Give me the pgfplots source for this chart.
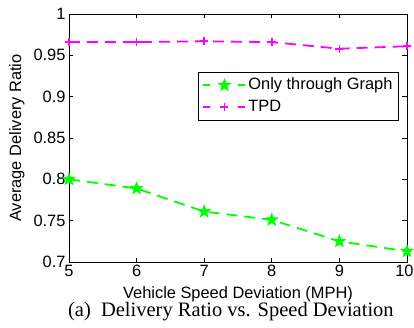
\documentclass[border=0pt]{standalone}
\usepackage{fontspec}
\setmainfont{Liberation Sans}
\newfontfamily\capfont{Liberation Serif}
\usepackage{pgfplots}
\pgfplotsset{compat=1.18}
\definecolor{mgreen}{RGB}{0,255,0}
\definecolor{mmag}{RGB}{255,0,255}
\newcommand{\lf}{\fontsize{16.4bp}{19bp}\selectfont}
\pgfdeclareplotmark{fstar}{%
  \pgfpathmoveto{\pgfpointpolar{90}{\pgfplotmarksize}}%
  \pgfpathlineto{\pgfpointpolar{126}{0.42\pgfplotmarksize}}%
  \pgfpathlineto{\pgfpointpolar{162}{\pgfplotmarksize}}%
  \pgfpathlineto{\pgfpointpolar{198}{0.42\pgfplotmarksize}}%
  \pgfpathlineto{\pgfpointpolar{234}{\pgfplotmarksize}}%
  \pgfpathlineto{\pgfpointpolar{270}{0.42\pgfplotmarksize}}%
  \pgfpathlineto{\pgfpointpolar{306}{\pgfplotmarksize}}%
  \pgfpathlineto{\pgfpointpolar{342}{0.42\pgfplotmarksize}}%
  \pgfpathlineto{\pgfpointpolar{18}{\pgfplotmarksize}}%
  \pgfpathlineto{\pgfpointpolar{54}{0.42\pgfplotmarksize}}%
  \pgfpathclose
  \pgfusepathqfillstroke}
\begin{document}
\begin{tikzpicture}
\begin{axis}[
  scale only axis, width=338bp, height=248bp,
  xmin=5, xmax=10, ymin=0.7, ymax=1,
  xtick={5,6,7,8,9,10},
  xticklabels={5,6,7,8,9,{10\hspace*{5bp}}},
  ytick={0.7,0.75,0.8,0.85,0.9,0.95,1},
  tick align=inside, tick pos=both,
  major tick length=4.5bp,
  axis line style={line width=0.9bp},
  every tick/.style={black, line width=0.7bp},
  /pgf/number format/assume math mode=true,
  yticklabel style={/pgf/number format/fixed, /pgf/number format/precision=2},
  tick label style={font=\lf},
  xlabel={Vehicle Speed Deviation (MPH)},
  ylabel={Average Delivery Ratio},
  every axis x label/.style={at={(axis description cs:0.5,-0.129)}, anchor=center, font=\lf},
  every axis y label/.style={at={(axis description cs:-0.154,0.5)}, anchor=center, rotate=90, font=\lf},
  legend style={at={(axis description cs:0.976,0.766)}, anchor=north east, font=\lf, draw=black, line width=0.9bp,
    inner xsep=4bp, inner ysep=3bp, row sep=2.5bp,
    nodes={inner sep=2bp, text height=12bp, text depth=3.5bp}},
  legend cell align=left,
  legend image code/.code={
    \draw[#1, dash pattern=on 7bp off 28bp] (0bp,0bp) -- (42bp,0bp);
    \draw[#1, mark repeat=1] plot coordinates {(21bp,0bp)};},
  clip=false,
]
\addplot[mgreen, line width=1.8bp, dash pattern=on 11bp off 7bp, mark=fstar, mark size=6.5bp, mark options={solid, fill=mgreen, line width=0.6bp}]
  coordinates {(5,0.800) (6,0.789) (7,0.761) (8,0.751) (9,0.725) (10,0.713)};
\addlegendentry{Only through Graph}
\addplot[mmag, line width=1.8bp, dash pattern=on 11bp off 7bp, mark=+, mark size=4bp, mark options={solid, line width=1.6bp}]
  coordinates {(5,0.966) (6,0.966) (7,0.967) (8,0.966) (9,0.958) (10,0.961)};
\addlegendentry{TPD}
\node[font=\capfont\fontsize{20.5bp}{24bp}\selectfont, anchor=center] at (axis description cs:0.479,-0.2016) {(a)~~Delivery Ratio vs. Speed Deviation};
\end{axis}
\pgfresetboundingbox
\useasboundingbox (-69bp,-66bp) rectangle (345bp,262bp);
\end{tikzpicture}
\end{document}
